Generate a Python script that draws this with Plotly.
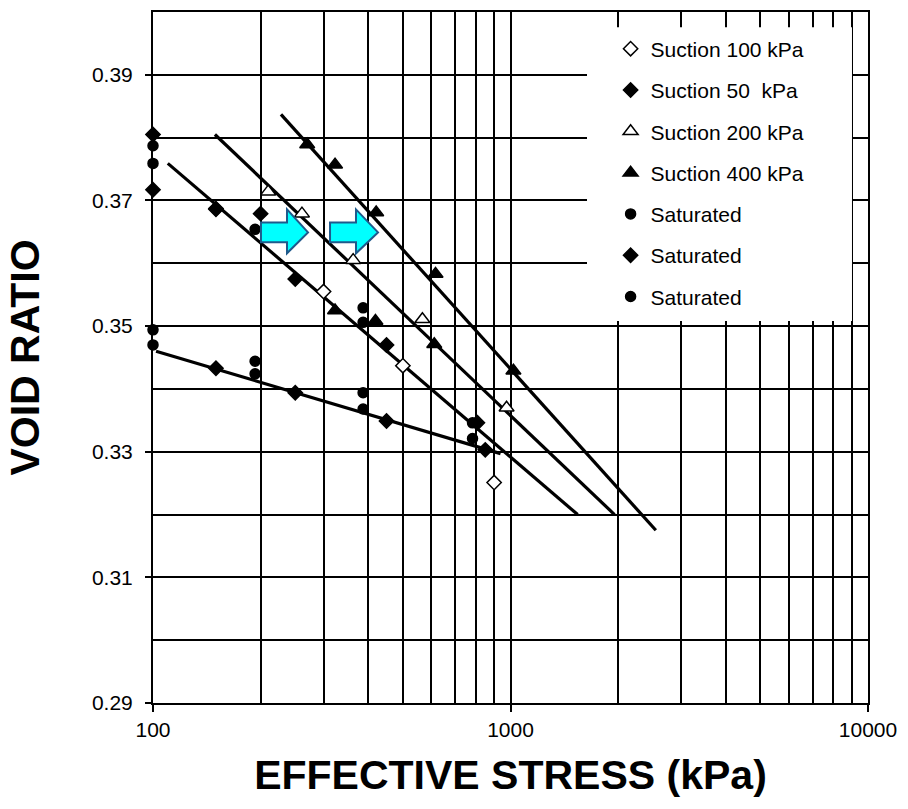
import plotly.graph_objects as go

# ---------------- data ----------------
s100_x = [150, 300, 500, 900]
s100_y = [0.3687, 0.3555, 0.3437, 0.3251]

s50_x = [100, 100, 150, 200, 250, 450, 808]
s50_y = [0.3805, 0.3717, 0.3686, 0.3679, 0.3575, 0.3470, 0.3346]

s200_x = [210, 261, 363, 567, 975]
s200_y = [0.3714, 0.3679, 0.3605, 0.3511, 0.3370]

s400_x = [270, 323, 421, 617, 1019, 323, 419, 612]
s400_y = [0.3789, 0.3757, 0.3681, 0.3583, 0.3429, 0.3525, 0.3508, 0.3471]

sat1_x = [100, 100, 193, 387, 387, 783]
sat1_y = [0.3787, 0.3759, 0.3654, 0.3529, 0.3506, 0.3346]

sat2_x = [150, 250, 450, 850]
sat2_y = [0.3433, 0.3394, 0.3349, 0.3303]

sat3_x = [100, 100, 193, 193, 387, 387, 783]
sat3_y = [0.3494, 0.3470, 0.3444, 0.3424, 0.3394, 0.3368, 0.3321]

# fitted lines (end points)
lineA_x = [228, 2550]
lineA_y = [0.3837, 0.3175]
lineB_x = [149, 1954]
lineB_y = [0.3805, 0.3200]
lineC_x = [110, 1541]
lineC_y = [0.3759, 0.3200]
lineD_x = [102, 938]
lineD_y = [0.3460, 0.3297]

x_major = [100, 1000, 10000]
x_minor = [200, 300, 400, 500, 600, 700, 800, 900,
           2000, 3000, 4000, 5000, 6000, 7000, 8000, 9000]

FONT = "Liberation Sans, Arial, sans-serif"

fig = go.Figure()

# lines
for lx, ly in [(lineA_x, lineA_y), (lineB_x, lineB_y), (lineC_x, lineC_y), (lineD_x, lineD_y)]:
    fig.add_trace(go.Scatter(x=lx, y=ly, mode="lines", showlegend=False,
                             line=dict(color="black", width=3.2), hoverinfo="skip"))

def add_pts(x, y, name, symbol, size, fill, group):
    fig.add_trace(go.Scatter(
        x=x, y=y, mode="markers", name=name, legendgroup=group,
        cliponaxis=False,
        marker=dict(symbol=symbol, size=size, color=fill,
                    line=dict(color="black", width=1.5))))

add_pts(s100_x, s100_y, "Suction 100 kPa", "diamond", 11, "white", "g1")
add_pts(s50_x, s50_y, "Suction 50  kPa", "diamond", 11, "black", "g2")
add_pts(s200_x, s200_y, "Suction 200 kPa", "triangle-up", 13, "white", "g3")
add_pts(s400_x, s400_y, "Suction 400 kPa", "triangle-up", 13, "black", "g4")
add_pts(sat1_x, sat1_y, "Saturated", "circle", 10, "black", "g5")
add_pts(sat2_x, sat2_y, "Saturated", "diamond", 11, "black", "g6")
add_pts(sat3_x, sat3_y, "Saturated", "circle", 10, "black", "g7")

# decorative arrows, in paper fractions
def arrow_path(x0, xh, xt, yb0, yb1, yh0, yh1):
    ym = (yb0 + yb1) / 2
    return (f"M {x0},{yb0} L {xh},{yb0} L {xh},{yh0} L {xt},{ym} "
            f"L {xh},{yh1} L {xh},{yb1} L {x0},{yb1} Z")

shapes = [
    # white legend panel hiding the grid (no data falls there)
    dict(type="rect", xref="paper", yref="paper", x0=0.607, x1=0.9776, y0=0.5527, y1=0.978,
         fillcolor="white", line=dict(width=0), layer="above"),
    dict(type="path", xref="paper", yref="paper",
         path=arrow_path(0.151, 0.1874, 0.2168, 0.6955, 0.6667, 0.7143, 0.6508),
         fillcolor="#00FFFF", line=dict(color="#1F5A8C", width=2), layer="above"),
    dict(type="path", xref="paper", yref="paper",
         path=arrow_path(0.2476, 0.2839, 0.3147, 0.6955, 0.6667, 0.7143, 0.6508),
         fillcolor="#00FFFF", line=dict(color="#1F5A8C", width=2), layer="above"),
]

fig.update_layout(
    width=908, height=809,
    margin=dict(l=153, r=40, t=10, b=106),
    paper_bgcolor="white", plot_bgcolor="white",
    font=dict(family=FONT, color="black", size=21),
    shapes=shapes,
    showlegend=True,
    legend=dict(x=0.64, y=0.976, xanchor="left", yanchor="top",
                bgcolor="rgba(0,0,0,0)", font=dict(size=21, family=FONT),
                tracegroupgap=11, itemsizing="trace"),
    xaxis=dict(type="log", range=[2, 4], tickvals=x_major, ticktext=["100", "1000", "10000"],
               ticks="outside", ticklen=7, tickwidth=2, tickcolor="black",
               showline=True, linecolor="black", linewidth=2, mirror=True,
               showgrid=True, gridcolor="black", gridwidth=2,
               minor=dict(tickvals=x_minor, showgrid=True, gridcolor="black", gridwidth=2, ticks=""),
               tickfont=dict(size=21, family=FONT),
               title=dict(text="<b>EFFECTIVE STRESS (kPa)</b>", font=dict(size=41, family=FONT), standoff=20),
               zeroline=False),
    yaxis=dict(range=[0.29, 0.40], tick0=0.29, dtick=0.02, tickformat=".2f",
               ticks="outside", ticklen=6, tickwidth=2, tickcolor="black",
               showline=True, linecolor="black", linewidth=2, mirror=True,
               showgrid=True, gridcolor="black", gridwidth=2,
               minor=dict(dtick=0.01, tick0=0.29, showgrid=True, gridcolor="black", gridwidth=2, ticks=""),
               tickfont=dict(size=21, family=FONT), ticklabelstandoff=8,
               title=dict(text="<b>VOID RATIO</b>", font=dict(size=41, family=FONT), standoff=40),
               zeroline=False),
)

fig.write_html("out.html")
